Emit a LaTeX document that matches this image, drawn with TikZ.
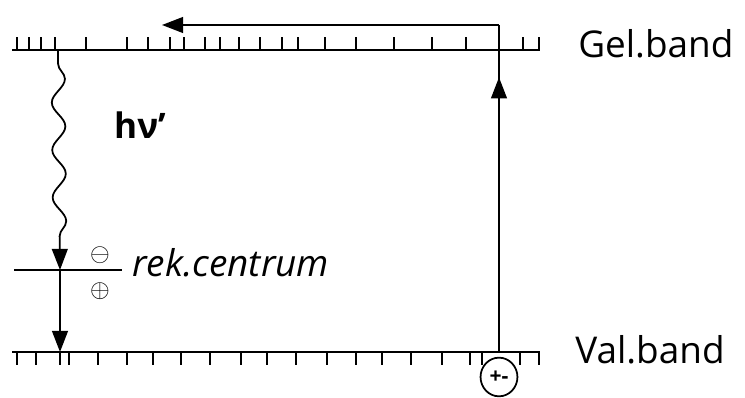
\documentclass[tikz,border=0pt]{standalone}
\usepackage{fontspec}
\setmainfont{Open Sans}
\usetikzlibrary{arrows.meta,decorations.pathmorphing,decorations.markings,shapes.geometric}

\begin{document}
\begin{tikzpicture}[x=0.02cm,y=-0.02cm,
  band/.style={line width=1.3pt},
  tick/.style={line width=1pt},
  conn/.style={line width=1pt},
  tip/.style={-{Triangle[length=12pt,width=9pt]}},
  lbl/.style={font=\fontsize{21}{24}\selectfont,anchor=west,inner sep=0pt}]
\useasboundingbox (0,0) rectangle (745,398);

% bands
\coordinate (gl) at (12,50); \coordinate (gr) at (540,50);
\coordinate (vl) at (12,352); \coordinate (vr) at (540,352);
\draw[band] (gl) -- (gr);
\draw[band] (vl) -- (vr);
\foreach \x in {17,29,41,55,86,127,148,170,184,205,220,239,260,282,298,325,356,394,432,466,523,539}
  \draw[tick] (\x,50) -- (\x,37);
\foreach \x in {17,36,60,69,98,127,153,181,210,241,267,296,327,356,382,411,442,470,482,520,539}
  \draw[tick] (\x,352) -- (\x,365);
\node[lbl] (gel) at (578,44) {Gel.band};
\node[lbl] (val) at (575,350) {Val.band};

% recombination
\coordinate (wt) at (58,50);
\coordinate (rc) at (60,270);
\coordinate (vb) at (60,352);
\coordinate (rl) at (14,270); \coordinate (rr) at (122,270);
\draw[conn] (rl) -- (rr);
\draw[conn,tip,decorate,decoration={snake,amplitude=3.8pt,segment length=27pt,pre length=8pt,post length=16pt}] (wt) -- (rc);
\draw[conn,tip] (rc) -- (vb);
\node[font=\bfseries\fontsize{20}{22}\selectfont] (hv) at (140,125) {hν'};
\node[font=\Large] (minus) at (100,255) {$\ominus$};
\node[font=\Large] (plus) at (100,291) {$\oplus$};
\node[lbl,font=\itshape\fontsize{21}{24}\selectfont] (rek) at (132,263) {rek.centrum};

% excitation
\node[draw,conn,ellipse,minimum width=21pt,minimum height=22pt,inner sep=0pt,font=\bfseries\large] (eh) at (499,377) {+-};
\coordinate (tr) at (499,25);
\coordinate (ta) at (162,25);
\draw[conn,postaction={decorate},decoration={markings,mark=at position 0.84 with {\arrow{Triangle[length=12pt,width=9pt]}}}] (vr -| eh) -- (tr);
\draw[conn,tip] (tr) -- (ta);
\end{tikzpicture}
\end{document}
